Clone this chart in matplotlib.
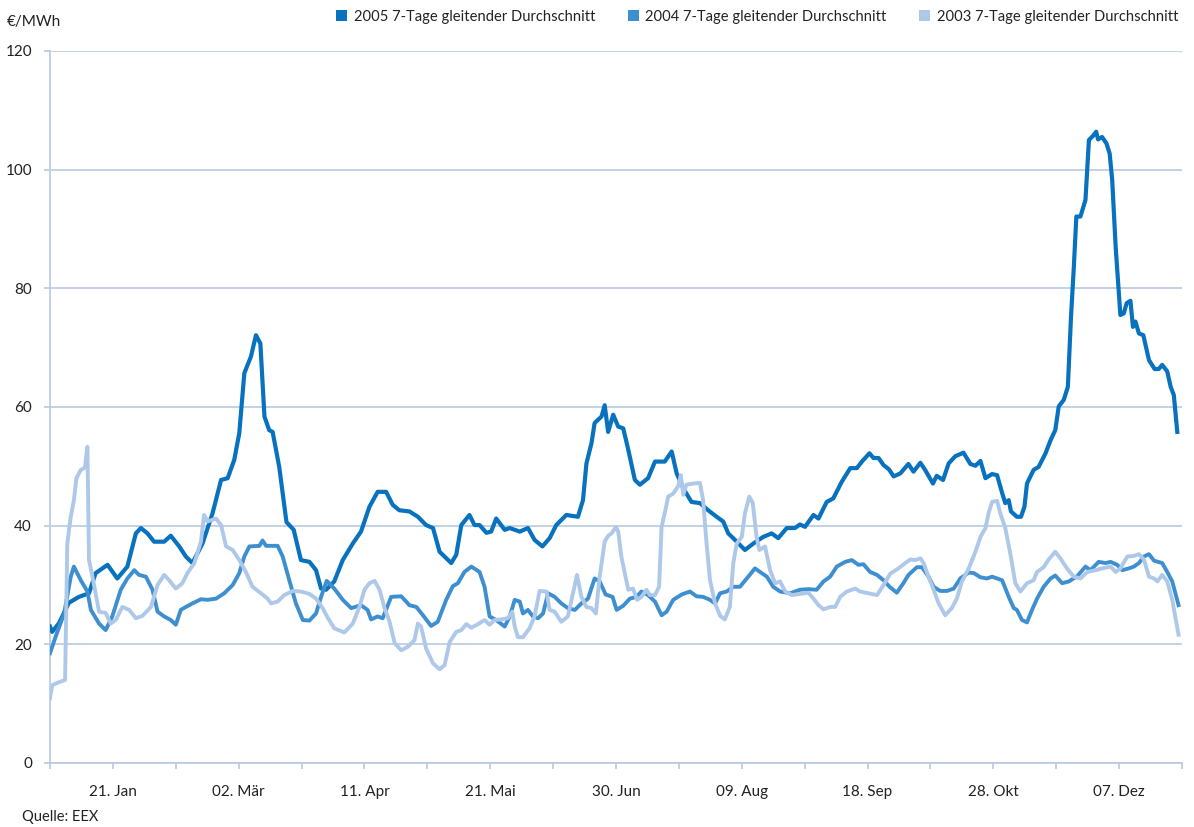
import matplotlib
matplotlib.use("Agg")
import matplotlib.pyplot as plt
from matplotlib.patches import Patch

# ---------------- data (day of year, 0 = 1 Jan) ----------------
days_2005 = [0, 0.7, 2.9, 6, 9.2, 12.4, 14.5, 18.3, 21.4, 24.6, 27.3, 28.9, 31, 33.1, 36.3, 38.4,
             41.1, 43.2, 45.3, 48.5, 51.7, 54.4, 56.5, 58.6, 60.2, 61.8, 63.9, 65.5, 66.9, 68.2,
             69.7, 70.8, 72.9, 75.2, 77.5, 79.8, 82.5, 84.6, 86.2, 87.8, 90.4, 93.1, 96.3, 98.9,
             101.6, 104.2, 106.9, 109, 111.1, 114.3, 117, 119.6, 121.8, 123.9, 127.6, 129.2,
             130.8, 133.4, 135, 136.6, 138.8, 140.3, 141.9, 144.6, 146.2, 149.4, 152, 154.1,
             156.6, 158.9, 161, 164.2, 167.9, 169.5, 170.6, 172.2, 173.2, 175.4, 176.4, 177.5,
             179.1, 180.7, 182.3, 183.9, 186, 187.6, 190.2, 192.4, 195.5, 197.7, 199.3, 201.4,
             204, 206.7, 209.3, 212, 214.1, 215.7, 218.4, 221, 223.7, 226.8, 229.5, 231.6,
             234.3, 236.9, 238.5, 240.1, 242.8, 244.4, 247, 249.1, 251.8, 254.5, 256.6, 258.2,
             260.6, 261.9, 263.5, 265.1, 266.8, 268.3, 270.4, 273, 274.6, 276.8, 278.3, 280.8,
             282, 284, 285.8, 287.9, 290.5, 292.7, 294.3, 295.9, 297.5, 299.6, 301.2, 302.8,
             303.8, 304.9, 305.6, 307.5, 308.8, 309.9, 310.7, 312.8, 314.4, 316.6, 318.2, 319.7,
             320.8, 322.4, 323.7, 324.7, 325.6, 326.4, 327.7, 329.3, 330.4, 331.7, 332.7, 333.3,
             334.6, 336, 337, 337.8, 338.9, 340.4, 341.5, 342.4, 343.6, 344.4, 345.2, 346.3,
             347.7, 349.5, 351.3, 352.6, 353.7, 355.3, 356.4, 357.4, 358.5]
vals_2005 = [23.0, 22.1, 23.6, 27.0, 28.0, 28.6, 32.0, 33.4, 31.1, 33.1, 38.7, 39.6, 38.7, 37.3, 37.3, 38.3,
             36.5, 34.8, 33.7, 37.0, 42.1, 47.7, 48.0, 51.1, 55.6, 65.7, 68.5, 72.1, 70.7, 58.4,
             56.1, 55.8, 49.9, 40.6, 39.3, 34.2, 33.9, 32.5, 29.4, 29.2, 30.6, 34.2, 37.0, 39.0,
             43.2, 45.7, 45.7, 43.5, 42.6, 42.4, 41.5, 40.1, 39.6, 35.6, 33.7, 35.1,
             40.1, 41.8, 40.1, 40.1, 38.8, 39.0, 41.2, 39.3, 39.6, 39.0, 39.6, 37.6,
             36.5, 37.9, 40.1, 41.8, 41.5, 44.3, 50.5, 53.9, 57.3, 58.4, 60.3, 55.8,
             58.7, 56.7, 56.4, 52.8, 47.7, 46.9, 48.0, 50.8, 50.8, 52.5, 48.8, 46.3,
             44.0, 43.8, 42.6, 41.5, 40.7, 38.7, 37.3, 35.9, 37.0, 38.1, 38.7, 37.9,
             39.6, 39.6, 40.2, 39.8, 41.8, 41.2, 44.0, 44.6, 47.4, 49.7, 49.7, 50.8,
             52.2, 51.4, 51.4, 50.2, 49.5, 48.3, 48.8, 50.4, 49.1, 50.6, 49.4, 47.1,
             48.4, 47.7, 50.5, 51.7, 52.3, 50.4, 50.1, 50.9, 48.0, 48.7, 48.5, 45.5,
             43.8, 44.3, 42.4, 41.5, 41.5, 43.2, 47.1, 49.4, 49.9, 52.2, 54.4, 56.1,
             60.1, 61.2, 63.4, 75.2, 83.6, 92.1, 92.1, 94.9, 105.0, 105.7, 106.4, 105.1,
             105.5, 104.4, 102.7, 98.3, 87.0, 75.5, 75.8, 77.5, 77.9, 73.5, 74.4, 72.4,
             72.1, 67.9, 66.4, 66.4, 67.1, 66.0, 63.4, 62.0, 55.8]

days_2004 = [0, 1.8, 4.5, 6.6, 7.6, 9.8, 11.9, 13, 15.6, 17.7, 19.8, 22.5, 24.6, 26.8, 28.3, 30.5,
             32.6, 34.2, 36.3, 38.4, 40, 41.6, 43.2, 45.3, 48, 50.1, 52.8, 55.4, 58.1, 60.2,
             61.8, 63.4, 66.6, 67.6, 68.7, 72.4, 74, 76.1, 78.2, 80.4, 82.5, 84.6, 86.2, 88,
             90.4, 93.1, 95.8, 98.9, 101, 102.1, 104.2, 105.8, 108.5, 111.7, 114.3, 116.5,
             118.6, 121.2, 123.3, 126, 128.1, 129.7, 131.8, 134, 136.6, 138.2, 139.8, 141.9,
             144.6, 146.2, 147.8, 149.4, 150.4, 152, 153.6, 155.2, 156.8, 158.4, 160.5, 162.6,
             164.7, 166.9, 169, 171.1, 173.2, 174.8, 176.7, 178.9, 180.2, 182.3, 184.4, 186.5,
             188.1, 190.2, 192.4, 194.5, 196.1, 198.2, 200.9, 203.5, 205.6, 207.7, 209.9,
             211.5, 213.1, 215.2, 217.3, 219.4, 221.6, 224.2, 225.8, 228, 230, 232.2, 235.4,
             238.5, 241.2, 243.8, 246, 248.1, 250.2, 252.9, 255, 257.1, 258.7, 260.8, 263,
             265.1, 267, 269.3, 271.4, 273, 275.7, 277.3, 279.4, 281, 283.1, 285.3, 287.4,
             289.5, 292.2, 293.8, 295.9, 298, 299.6, 301.2, 302.8, 304.9, 306.5, 307.5, 309.1,
             310.7, 312.3, 313.9, 316, 318.2, 319.7, 321.9, 324, 326.7, 329.3, 330.9, 333.5,
             335.7, 337.3, 339.4, 341, 343.1, 344.7, 346.3, 347.9, 349.5, 351.1, 353.7, 355.3,
             356.9, 358.9]
vals_2004 = [18.5, 21.3, 25.2, 31.4, 33.1, 30.8, 28.9, 25.8, 23.5, 22.4, 24.7, 29.2, 31.1, 32.5, 31.7, 31.4,
             29.2, 25.5, 24.7, 24.1, 23.3, 25.8, 26.3, 26.9, 27.6, 27.5, 27.7, 28.6, 30.0, 32.0,
             34.8, 36.5, 36.6, 37.5, 36.6, 36.6, 34.8, 30.8, 26.9, 24.1, 24.0, 25.2, 28.0, 30.7,
             29.4, 27.5, 26.1, 26.6, 25.8, 24.2, 24.7, 24.4, 28.0, 28.1, 26.6, 26.3,
             24.9, 23.1, 23.8, 27.5, 29.8, 30.3, 32.2, 33.1, 32.2, 29.7, 24.7, 24.1,
             23.0, 24.7, 27.5, 27.2, 25.2, 25.8, 24.7, 24.4, 25.2, 28.6, 28.0, 26.9,
             26.1, 25.8, 26.9, 27.7, 31.1, 30.6, 28.4, 28.0, 25.8, 26.5, 27.7, 28.0,
             28.9, 28.3, 27.2, 24.9, 25.5, 27.5, 28.4, 28.9, 28.1, 28.0, 27.5,
             26.9, 28.6, 28.9, 29.7, 29.7, 31.1, 32.8, 32.2, 31.4, 29.7, 28.9, 28.6,
             29.2, 29.3, 29.2, 30.6, 31.4, 33.1, 33.9, 34.2, 33.4, 33.5, 32.2, 31.7,
             30.8, 29.7, 28.7, 30.3, 31.7, 33.0, 33.0, 31.4, 29.7, 29.0, 29.0, 29.4,
             31.1, 32.1, 32.0, 31.3, 31.1, 31.4, 31.1, 30.8, 28.0, 26.1, 25.8, 24.1,
             23.7, 25.8, 27.7, 29.7, 31.1, 31.6, 30.3, 30.6, 31.5, 33.1, 32.5, 33.9,
             33.7, 33.9, 33.4, 32.5, 32.8, 33.1, 33.7, 34.8, 35.2, 34.1, 33.7, 32.2,
             30.6, 26.6]

days_2003 = [0, 0.7, 2.3, 4.8, 5.5, 6.6, 7.6, 8.4, 9.8, 11.1, 11.9, 12.4, 13.5, 14.5, 15.6, 17.7,
             19.3, 20.9, 23, 25.2, 27.3, 29.4, 32.1, 34.2, 36.3, 37.9, 40, 42.1, 43.7, 45.9,
             48, 49, 50.1, 52.8, 54.4, 56, 58.1, 60.2, 62.3, 64.4, 67.1, 69.2, 70.3, 72.4,
             74.5, 77.2, 79.8, 82.5, 84.6, 86.7, 88.3, 90.4, 93.6, 96.3, 98.4, 100, 101.6,
             103.2, 104.8, 106.4, 108, 109.6, 111.7, 113.8, 115.9, 117, 118, 119.6, 121.8,
             123.9, 125.5, 127.1, 129.2, 130.8, 132.4, 134, 136.1, 138.2, 139.8, 141.4, 143.5,
             145.6, 147, 147.8, 148.8, 150.4, 152.5, 154.1, 155.7, 157.9, 158.9, 160.5, 162.6,
             164.7, 166.3, 167.6, 169, 170.6, 172.2, 173.6, 174.8, 176.4, 177.5, 178.6, 180,
             180.7, 181.7, 182.8, 183.9, 185.4, 186.7, 188.1, 189.7, 190.8, 192.4, 193.7,
             194.5, 195.5, 196.6, 198.2, 199.8, 200.6, 201.4, 202.4, 204.6, 206.7, 207.7,
             208.8, 209.9, 211.5, 213.1, 214.6, 216.2, 217.3, 218.4, 220, 221, 222.4, 223.5,
             224.7, 225.6, 227.4, 229, 230.6, 232.2, 233.8, 235.9, 238.5, 241.2, 242.8, 244.4,
             246, 248.1, 249.7, 251.3, 253.4, 256.1, 257.6, 260.3, 263, 265.1, 267.2, 269.8,
             272, 273.6, 275.2, 276.8, 277.8, 279.4, 281, 282.6, 284.7, 286.8, 288.4, 290,
             292.2, 294.3, 295.9, 297.5, 298.5, 299.6, 301.2, 302.2, 303.8, 305.4, 307, 308.6,
             310.7, 312.8, 313.9, 316, 317.6, 319.7, 321.3, 323.4, 325.6, 327.7, 329.9, 332.5,
             334.6, 337.3, 338.9, 340.4, 342.6, 344.7, 346.3, 347.9, 349.5, 351.1, 352.2,
             353.7, 355.3, 356.9, 358.9]
vals_2003 = [10.9, 13.1, 13.5, 14.0, 37.0, 41.5, 44.3, 48.0, 49.4, 49.8, 53.3, 34.2, 31.4, 28.6, 25.5, 25.3,
             23.5, 24.1, 26.3, 25.8, 24.4, 24.8, 26.3, 30.0, 31.7, 30.8, 29.4, 30.3, 32.0, 33.7,
             37.3, 41.8, 40.7, 41.2, 40.1, 36.5, 35.9, 34.2, 32.2, 29.7, 28.6, 27.7, 26.9, 27.2,
             28.3, 29.0, 28.9, 28.5, 27.7, 26.1, 24.5, 22.7, 22.0, 23.5, 26.3, 29.2, 30.3,
             30.7, 29.2, 26.1, 23.8, 20.2, 19.0, 19.6, 20.7, 23.5, 23.0, 19.3, 16.8,
             15.8, 16.5, 20.4, 22.1, 22.4, 23.4, 22.8, 23.4, 24.1, 23.3, 24.1, 24.2,
             24.4, 25.5, 23.0, 21.2, 21.2, 22.7, 24.7, 29.0, 28.9, 25.8, 25.5, 23.8,
             24.7, 28.6, 31.7, 28.0, 26.3, 26.1, 25.2, 31.4, 37.3, 38.3, 38.7, 39.8,
             39.0, 34.8, 32.0, 29.2, 29.4, 27.5, 28.0, 29.2, 28.3, 28.3, 29.7,
             39.8, 42.1, 44.9, 45.4, 46.7, 48.5, 45.2, 46.9, 47.1, 47.2, 44.3,
             37.0, 30.8, 26.9, 24.8, 24.2, 26.3, 33.7, 37.0, 38.1, 42.1, 44.9, 43.8,
             38.1, 35.9, 36.5, 32.5, 30.3, 30.6, 28.9, 28.3, 28.5, 28.7, 27.7, 26.6,
             25.9, 26.3, 26.3, 28.0, 28.9, 29.4, 28.9, 28.6, 28.3, 30.0, 31.9, 32.8,
             33.7, 34.3, 34.2, 34.5, 33.7, 31.4, 29.2, 26.9, 24.9, 26.1, 27.7, 30.6,
             32.8, 35.6, 38.1, 39.6, 42.1, 44.0, 44.2, 42.1, 39.6, 35.3, 30.3, 28.9,
             30.3, 30.8, 32.2, 33.0, 34.3, 35.6, 34.5, 32.8, 31.4, 31.1, 32.2, 32.5,
             32.8, 33.1, 32.2, 32.8, 34.8, 34.9, 35.2, 34.3, 31.4, 31.1, 30.6,
             31.7, 30.6, 27.5, 21.6]

series_labels = ["2005 7-Tage gleitender Durchschnitt",
                 "2004 7-Tage gleitender Durchschnitt",
                 "2003 7-Tage gleitender Durchschnitt"]
x_tick_days = [20, 60, 100, 140, 180, 220, 260, 300, 340]
x_tick_labels = ["21. Jan", "02. Mär", "11. Apr", "21. Mai", "30. Jun",
                 "09. Aug", "18. Sep", "28. Okt", "07. Dez"]
y_ticks = [0, 20, 40, 60, 80, 100, 120]

# ---------------- style ----------------
plt.rcParams['font.family'] = ['Lato', 'DejaVu Sans']
C2005 = "#0872BE"
C2004 = "#3E8FD0"
C2003 = "#AEC8EA"
GRID = "#B8C9E0"
TXT = "#222222"

fig = plt.figure(figsize=(11.94, 8.27), dpi=100)
ax = fig.add_axes([50 / 1194, 64 / 827, 1132 / 1194, 712 / 827])

ax.plot(days_2005, vals_2005, color=C2005, lw=3.0, zorder=3, solid_joinstyle='round')
ax.plot(days_2004, vals_2004, color=C2004, lw=2.8, zorder=4, solid_joinstyle='round')
ax.plot(days_2003, vals_2003, color=C2003, lw=2.8, zorder=5, solid_joinstyle='round')

ax.set_xlim(0, 360)
ax.set_ylim(0, 120)

for s in ['top', 'right']:
    ax.spines[s].set_visible(False)
for s in ['left', 'bottom']:
    ax.spines[s].set_color(GRID)
    ax.spines[s].set_linewidth(1.2)

ax.set_yticks(y_ticks)
ax.set_yticklabels([str(v) for v in y_ticks])
ax.yaxis.grid(True, color=GRID, lw=1.2)
ax.set_axisbelow(True)

all_ticks = list(range(0, 361, 20))
lab_map = dict(zip(x_tick_days, x_tick_labels))
ax.set_xticks(all_ticks)
ax.set_xticklabels([lab_map.get(t, "") for t in all_ticks])

ax.tick_params(axis='y', direction='out', length=4, width=1.2, color=GRID,
               labelsize=11, labelcolor=TXT, pad=9)
ax.tick_params(axis='x', direction='out', length=4.5, width=1.2, color=GRID,
               labelsize=11, labelcolor=TXT, pad=11)

fig.text(7 / 1194, 1 - 22 / 827, "€/MWh", fontsize=11, color=TXT, va='center', ha='left')
fig.text(22 / 1194, 1 - 817 / 827, "Quelle: EEX", fontsize=10.5, color=TXT, va='center', ha='left')

handles = [Patch(facecolor=c, edgecolor='none') for c in (C2005, C2004, C2003)]
fig.legend(handles, series_labels, loc='upper right', bbox_to_anchor=(1184 / 1194, 1 - 4 / 827),
           ncol=3, frameon=False, fontsize=10.6, handlelength=0.75, handleheight=0.75,
           handletextpad=0.45, columnspacing=2.2, labelcolor=TXT, borderaxespad=0)

fig.savefig("out.png", dpi=100)
